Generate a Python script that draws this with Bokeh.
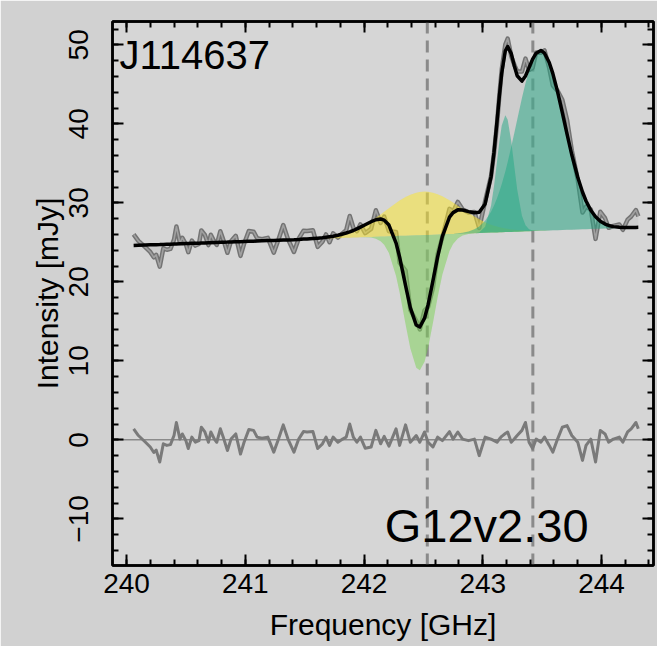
from bokeh.plotting import figure
from bokeh.models import (LinearAxis, SingleIntervalTicker, Span, Label,
                          CustomJSTickFormatter, Range1d, ColumnDataSource)
from bokeh.embed import file_html
from bokeh.resources import INLINE

# ---------------- data ----------------
freq = [240.06, 240.10, 240.16, 240.20, 240.23, 240.25, 240.28, 240.31, 240.34, 240.37,
        240.40, 240.42, 240.45, 240.47, 240.50, 240.52, 240.55, 240.58, 240.61, 240.63,
        240.66, 240.69, 240.71, 240.74, 240.76, 240.79, 240.82, 240.85, 240.88, 240.92,
        240.96, 240.99, 241.03, 241.07, 241.10, 241.14, 241.19, 241.24, 241.28, 241.32,
        241.36, 241.41, 241.45, 241.49, 241.52, 241.57, 241.61, 241.65, 241.68, 241.71,
        241.74, 241.78, 241.82, 241.85, 241.88, 241.91, 241.94, 241.97, 242.01, 242.06,
        242.10, 242.14, 242.17, 242.21, 242.27, 242.30, 242.35, 242.39, 242.44, 242.47,
        242.51, 242.54, 242.58, 242.62, 242.66, 242.72, 242.75, 242.79, 242.83, 242.88,
        242.93, 242.97, 243.02, 243.07, 243.095, 243.12, 243.14, 243.16, 243.19, 243.21,
        243.24, 243.265, 243.29, 243.33, 243.36, 243.39, 243.42, 243.45, 243.49, 243.52,
        243.56, 243.59, 243.63, 243.67, 243.71, 243.75, 243.80, 243.84, 243.87, 243.91,
        243.95, 243.99, 244.03, 244.06, 244.10, 244.15, 244.18, 244.22, 244.25, 244.29,
        244.31]

residual = [1.4, 0.55, -0.3, -0.9, -1.6, -1.3, -2.8, -0.5, -0.7, -0.6,
            0.55, 2.2, 0.1, 0.75, -0.1, -1.1, 0.35, -0.3, -0.1, 1.6,
            1.0, -0.3, 1.0, 0.1, -0.3, 1.4, 0.1, -1.35, 0.1, 0.75,
            -1.8, -0.3, 1.3, 1.2, 0.35, 0.2, 0.35, -1.55, 0.1, 1.9,
            0.1, -1.55, 0.1, 1.05, 1.0, 1.05, -1.1, -0.5, 0.35, -0.7,
            0.35, -0.3, 0.1, 0.35, 2.0, 0.35, -0.3, 0.35, -1.05, -0.9,
            1.2, -0.5, 0.45, -0.8, 1.4, -0.7, 1.9, -0.3, 0.55, -0.3,
            1.0, -0.3, -0.9, 0.35, -0.1, 1.05, 0.1, 1.0, 0.1, -0.1,
            0.1, -2.0, 0.35, 0.1, -0.1, -0.3, 0.1, 0.45, 0.8, 1.0,
            -0.3, 0.1, 0.55, 1.2, 2.2, -0.3, -1.1, 0.1, -0.3, 0.35,
            -0.7, -1.55, 0.1, 1.6, 1.8, 0.55, -0.3, -2.6, -0.7, 0.1,
            -2.8, 1.2, 0.75, -0.3, 0.1, 0.35, -0.3, 1.0, 1.4, 2.2,
            1.4]

continuum = [24.61, 24.63, 24.66, 24.68, 24.70, 24.71, 24.72, 24.74, 24.76, 24.77,
             24.79, 24.80, 24.82, 24.83, 24.84, 24.85, 24.87, 24.89, 24.90, 24.91,
             24.93, 24.95, 24.96, 24.97, 24.98, 25.00, 25.02, 25.03, 25.05, 25.07,
             25.09, 25.11, 25.13, 25.15, 25.17, 25.19, 25.22, 25.24, 25.26, 25.29,
             25.31, 25.33, 25.36, 25.38, 25.39, 25.42, 25.44, 25.46, 25.48, 25.50,
             25.51, 25.53, 25.56, 25.57, 25.59, 25.60, 25.62, 25.64, 25.66, 25.69,
             25.71, 25.73, 25.74, 25.77, 25.80, 25.82, 25.84, 25.86, 25.89, 25.91,
             25.93, 25.94, 25.97, 25.99, 26.01, 26.04, 26.06, 26.08, 26.10, 26.13,
             26.16, 26.18, 26.20, 26.23, 26.24, 26.26, 26.27, 26.28, 26.30, 26.31,
             26.32, 26.34, 26.35, 26.37, 26.39, 26.40, 26.42, 26.44, 26.46, 26.47,
             26.50, 26.52, 26.54, 26.56, 26.58, 26.60, 26.63, 26.65, 26.66, 26.68,
             26.71, 26.73, 26.75, 26.77, 26.79, 26.81, 26.83, 26.85, 26.87, 26.89,
             26.90]

# line components (above/below the continuum), each starting at a channel of freq
yellow_start = 241.45
yellow = [0.0, 0.03, 0.04, 0.06, 0.09, 0.13, 0.17, 0.21, 0.27, 0.37,
          0.50, 0.61, 0.74, 0.90, 1.08, 1.28, 1.58, 2.01, 2.39, 2.80,
          3.12, 3.55, 4.18, 4.47, 4.89, 5.16, 5.40, 5.47, 5.50, 5.45,
          5.32, 5.10, 4.81, 4.28, 3.97, 3.55, 3.12, 2.59, 2.10, 1.74,
          1.35, 1.01, 0.87, 0.74, 0.65, 0.57, 0.46, 0.40, 0.32, 0.26,
          0.21, 0.15, 0.12, 0.09, 0.07, 0.05, 0.03, 0.02, 0.01, 0.0]

green_start = 241.97
green = [0.0, -0.02, -0.09, -0.24, -0.58, -1.05, -2.13, -5.07, -7.16, -11.20,
         -14.28, -16.76, -17.10, -16.03, -14.28, -11.20, -7.93, -5.07, -2.13, -1.27,
         -0.58, -0.24, -0.07, 0.0]

teal_narrow_start = 242.93
teal_narrow = [0.0, 0.07, 0.78, 3.41, 5.89, 8.98, 11.47, 13.50, 14.80, 14.21,
               11.47, 8.34, 5.34, 2.00, 0.78, 0.25, 0.07, 0.0]

teal_broad_start = 242.75
teal_broad = [0.0, 0.06, 0.11, 0.24, 0.49, 0.83, 1.53, 2.65, 3.41, 4.31,
              5.15, 6.09, 7.68, 8.86, 10.77, 12.45, 14.18, 16.89, 18.76, 20.37,
              21.63, 22.45, 22.80, 22.45, 21.25, 19.87, 17.53, 14.87, 12.11, 9.48,
              6.60, 4.72, 3.57, 2.38, 1.53, 0.94, 0.56, 0.37, 0.20, 0.09,
              0.05, 0.02, 0.0]

line_freqs = [242.533, 243.422]
x_ticks_interval = 1
y_ticks_interval = 10
source_name = "J114637"
object_name = "G12v2.30"

# ---------------- derived series ----------------
components = []
model = list(continuum)
for start, vals, color in [(yellow_start, yellow, "#fde725"),
                           (green_start, green, "#7ad151"),
                           (teal_broad_start, teal_broad, "#22a884"),
                           (teal_narrow_start, teal_narrow, "#22a884")]:
    i0 = freq.index(start)
    f = freq[i0:i0 + len(vals)]
    base = continuum[i0:i0 + len(vals)]
    top = [b + v for b, v in zip(base, vals)]
    for k, v in enumerate(vals):
        model[i0 + k] += v
    components.append((f, base, top, color))

spectrum = [m + r for m, r in zip(model, residual)]

FONT = "Liberation Sans"

p = figure(frame_width=541, frame_height=544,
           x_range=Range1d(239.882, 244.438), y_range=Range1d(-15.9, 52.95),
           output_backend="svg", toolbar_location=None,
           min_border_left=112, min_border_right=4, min_border_top=21,
           min_border_bottom=81,
           background_fill_color="#d6d6d6", border_fill_color="#d1d1d1",
           x_axis_label="Frequency [GHz]", y_axis_label="Intensity [mJy]")
p.grid.visible = False
p.outline_line_color = "black"
p.outline_line_width = 2.5

xt = SingleIntervalTicker(interval=x_ticks_interval, num_minor_ticks=5)
yt = SingleIntervalTicker(interval=y_ticks_interval, num_minor_ticks=5)
p.xaxis.ticker = xt
p.yaxis.ticker = yt
p.yaxis.formatter = CustomJSTickFormatter(
    code="return tick < 0 ? '\u2212' + (-tick) : '' + tick;")
p.yaxis.major_label_orientation = "vertical"


def style_axis(ax, labels=True):
    ax.axis_line_color = "black"
    ax.axis_line_width = 2.5
    ax.major_tick_in = 11
    ax.major_tick_out = 0
    ax.minor_tick_in = 6
    ax.minor_tick_out = 0
    ax.major_tick_line_width = 2
    ax.minor_tick_line_width = 2
    ax.major_tick_line_color = "black"
    ax.minor_tick_line_color = "black"
    ax.major_label_text_font = FONT
    ax.major_label_text_font_size = "28px"
    ax.major_label_text_color = "black"
    ax.axis_label_text_font = FONT
    ax.axis_label_text_font_size = "30px"
    ax.axis_label_text_font_style = "normal"
    ax.axis_label_text_color = "black"
    if not labels:
        ax.major_label_text_font_size = "0px"
        ax.major_label_standoff = 0
        ax.formatter = CustomJSTickFormatter(code="return '';")


for ax in p.xaxis:
    style_axis(ax)
    ax.major_label_standoff = 8
    ax.axis_label_standoff = 12
for ax in p.yaxis:
    style_axis(ax)
    ax.major_label_standoff = 24
    ax.axis_label_standoff = 3

top_ax = LinearAxis(ticker=SingleIntervalTicker(interval=x_ticks_interval, num_minor_ticks=5))
right_ax = LinearAxis(ticker=SingleIntervalTicker(interval=y_ticks_interval, num_minor_ticks=5))
style_axis(top_ax, labels=False)
style_axis(right_ax, labels=False)
p.add_layout(top_ax, "above")
p.add_layout(right_ax, "right")

# zero line and line-frequency markers
p.add_layout(Span(location=0, dimension="width", line_color="#8a8a8a",
                  line_width=1.5, level="underlay"))
for lf in line_freqs:
    p.add_layout(Span(location=lf, dimension="height", line_color="#8a8a8a",
                      line_width=3, line_dash="12 7", level="underlay"))

src = ColumnDataSource(dict(f=freq, cont=continuum, spec=spectrum,
                            model=model, res=residual))

# observed spectrum (light fill + line)
p.varea(x="f", y1="cont", y2="spec", source=src, fill_color="#b4b4b4", fill_alpha=0.25)
p.line(x="f", y="spec", source=src, line_color="#686868", line_width=4.5,
       line_alpha=0.9, line_join="round")
p.line(x="f", y="spec", source=src, line_color="#a0a0a0", line_width=1.6,
       line_join="round")

# residual
p.line(x="f", y="res", source=src, line_color="#7a7a7a", line_width=3,
       line_join="round")

# model components
for f, base, top, color in components:
    p.varea(x=f, y1=base, y2=top, fill_color=color, fill_alpha=0.5)

# total model
p.line(x="f", y="model", source=src, line_color="black", line_width=3.5,
       line_join="round")

p.add_layout(Label(x=239.94, y=48.7, text=source_name, text_font=FONT,
                   text_font_size="40px", text_color="black",
                   text_baseline="alphabetic"))
p.add_layout(Label(x=242.175, y=-10.8, text=object_name, text_font=FONT,
                   text_font_size="47px", text_color="black",
                   text_baseline="alphabetic"))

open("out.html", "w").write(file_html(p, INLINE))
